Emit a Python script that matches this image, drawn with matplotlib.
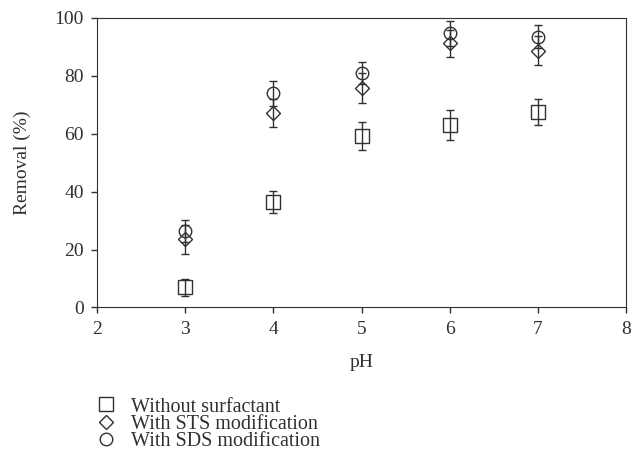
import numpy as np
import matplotlib
matplotlib.use("Agg")
import matplotlib.pyplot as plt
from matplotlib.lines import Line2D

## Data:
ph = [3, 4, 5, 6, 7]

no_surf = [7.0, 36.3, 59.2, 62.9, 67.4]
no_surf_err = [3.0, 3.8, 4.7, 5.2, 4.5]

sts = [23.6, 67.2, 75.7, 91.2, 88.6]
sts_err = [5.0, 4.8, 5.1, 4.6, 5.0]

sds = [26.4, 73.9, 81.0, 94.6, 93.4]
sds_err = [3.8, 4.2, 3.8, 4.2, 4.0]

labels = ["Without surfactant", "With STS modification", "With SDS modification"]

## Style:
ink = "#303030"
plt.rcParams["font.family"] = ["Liberation Serif", "DejaVu Serif"]
plt.rcParams["font.size"] = 14
plt.rcParams["text.color"] = ink
plt.rcParams["axes.labelcolor"] = ink
plt.rcParams["xtick.color"] = ink
plt.rcParams["ytick.color"] = ink
plt.rcParams["axes.edgecolor"] = ink

fig = plt.figure(figsize=(6.31, 4.68), dpi=100)
ax = fig.add_axes([0.154, 0.343, 0.838, 0.619])

series = [
    (no_surf, no_surf_err, "s", 9.5),
    (sts, sts_err, "D", 7.5),
    (sds, sds_err, "o", 9.0),
]
for vals, err, mk, ms in series:
    ax.errorbar(ph, vals, yerr=err, fmt=mk, ms=ms, mfc="none", mec=ink,
                mew=1.0, ecolor=ink, elinewidth=1.0, capsize=3, capthick=1.0)

ax.set_xlim(2, 8)
ax.set_ylim(0, 100)
ax.set_xticks(range(2, 9))
ax.set_yticks(range(0, 101, 20))
ax.tick_params(direction="out", length=4.5, width=1, pad=5)
ax.set_xlabel("pH", labelpad=12)
ax.set_ylabel("Removal (%)", labelpad=17)

## Legend under the plot, markers only:
handles = [
    Line2D([], [], ls="none", marker="s", ms=9.5, mfc="none", mec=ink, mew=1.0),
    Line2D([], [], ls="none", marker="D", ms=7.5, mfc="none", mec=ink, mew=1.0),
    Line2D([], [], ls="none", marker="o", ms=9.0, mfc="none", mec=ink, mew=1.0),
]
fig.legend(handles, labels, loc="upper left", bbox_to_anchor=(0.132, 0.168),
           frameon=False, handletextpad=0.45, labelspacing=-0.1, borderaxespad=0,
           handlelength=1.5, fontsize=14.5)

plt.savefig("out.png", dpi=100)
